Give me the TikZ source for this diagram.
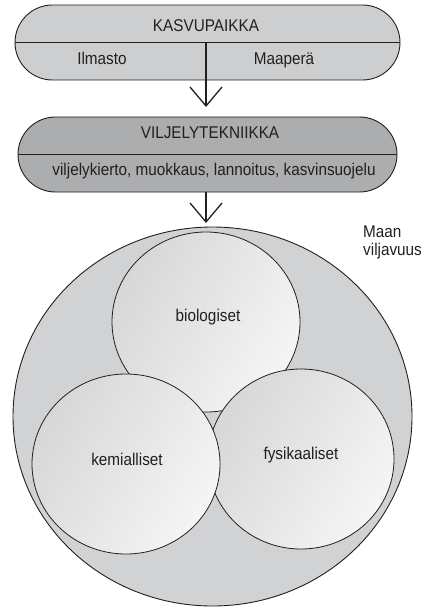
\documentclass[tikz,border=0pt]{standalone}
\usepackage{fontspec}
\setmainfont{Liberation Sans}[FakeStretch=0.9]
\usetikzlibrary{arrows.meta,shapes.geometric}
\definecolor{boxA}{HTML}{CDCECF}
\definecolor{boxB}{HTML}{ABADAF}
\definecolor{bigc}{HTML}{D1D2D4}
\definecolor{circD}{HTML}{D6D7D8}
\definecolor{circL}{HTML}{F5F5F5}
\definecolor{ink}{HTML}{231F20}
\tikzset{
  pill/.style={draw=ink, line width=0.9pt, rounded corners=37.5pt, minimum width=#1, minimum height=75pt, inner sep=0pt},
  divider/.style={draw=ink, line width=0.8pt},
  flowarrow/.style={draw=ink, line width=1.3pt, -{Straight Barb[length=19pt,width=32pt,line width=1.3pt]}},
  bigell/.style={draw=ink, line width=0.9pt, ellipse, fill=bigc, inner sep=0pt},
  smallell/.style={draw=ink, line width=0.8pt, ellipse, inner sep=0pt, minimum width=188pt, minimum height=180pt, left color=circD, right color=circL, shading angle=60},
  txt/.style={font=\fontsize{17}{19}\selectfont, text=ink, anchor=base, inner sep=0pt}
}
\begin{document}
\begin{tikzpicture}[x=1pt,y=-1pt]
\useasboundingbox (0,0) rectangle (434,607);
% top box
\node[pill=385pt, fill=boxA] (kasv) at (207.5,42.5) {};
\draw[divider] (kasv.west) -- (kasv.east);
\node[txt] (kasvt) at (206,31.5) {KASVUPAIKKA};
\node[txt] (ilm) at (102,65) {Ilmasto};
\node[txt] (maap) at (284,65) {Maaperä};
% second box
\node[pill=379pt, fill=boxB] (vilj) at (207.5,154.5) {};
\draw[divider] (vilj.west) -- (vilj.east);
\node[txt] (viljt) at (210,139) {VILJELYTEKNIIKKA};
\node[txt] (viljs) at (214,175) {viljelykierto, muokkaus, lannoitus, kasvinsuojelu};
% arrows
\coordinate (a1s) at (206,43);
\coordinate (a1e) at (206,107);
\draw[flowarrow] (a1s) -- (a1e);
% big ellipse
\node[bigell, minimum width=399pt, minimum height=379pt] (maa) at (212.5,416.5) {};
\coordinate (a2s) at (206,192);
\coordinate (a2e) at (206,223);
\draw[flowarrow] (a2s) -- (a2e);
\node[txt, align=left, anchor=north west, font=\fontsize{17}{17.5}\selectfont] (maat) at (363,226) {Maan\\viljavuus};
% inner ellipses
\node[smallell] (bio) at (206,322) {};
\node[smallell, minimum width=186pt] (fys) at (301,459) {};
\node[smallell] (kem) at (126,464) {};
\node[txt] (biot) at (208,321.5) {biologiset};
\node[txt] (kemt) at (127,465.5) {kemialliset};
\node[txt] (fyst) at (301,459) {fysikaaliset};
\end{tikzpicture}
\end{document}
